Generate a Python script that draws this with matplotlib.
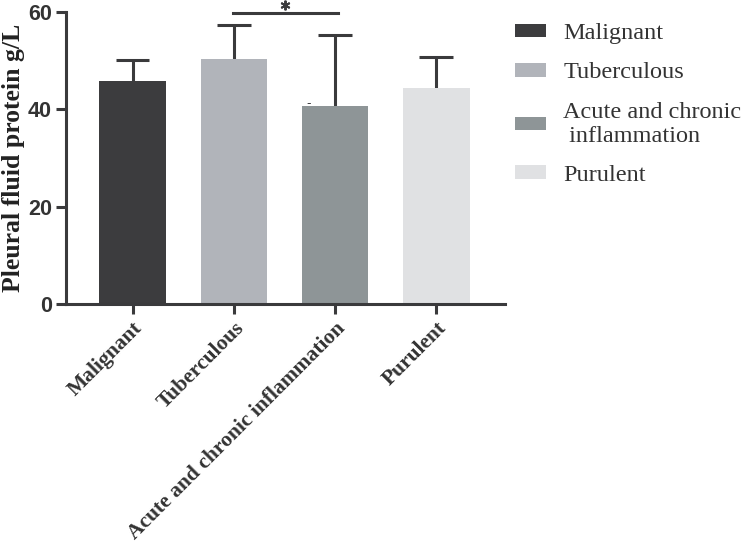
import numpy as np
from matplotlib import pyplot as plt
from matplotlib.patches import Patch

# data
groups = ["Malignant", "Tuberculous", "Acute and chronic inflammation", "Purulent"]
legend_labels = ["Malignant", "Tuberculous", "Acute and chronic\n inflammation", "Purulent"]
means = [45.9, 50.4, 40.8, 44.5]
sd = [4.3, 7.0, 14.5, 6.3]
colors = ["#3c3c3e", "#b1b4ba", "#8e9597", "#e0e1e3"]

axis_col = "#3a3a3c"

fig = plt.figure(figsize=(7.44, 5.49), dpi=100)
ax = fig.add_axes([0.0887, 0.446, 0.590, 0.532])

x = np.arange(len(groups))
ax.bar(x, means, width=0.66, color=colors, zorder=2)
# upper error bars only
tops = np.array(means) + np.array(sd)
ax.vlines(x, means, tops, color=axis_col, lw=2.2, zorder=1)
ax.hlines(tops, x - 0.165, x + 0.165, color=axis_col, lw=2.2, zorder=1)

# significance bar between Tuberculous and Acute
ax.plot([0.99, 2.03], [59.8, 59.8], color=axis_col, lw=2.2, clip_on=False)
ax.plot([1.51], [61.4], marker=(6, 2, 0), ms=7, mew=1.4, color=axis_col,
        clip_on=False)
ax.text(1.74, 41.2, "-", ha="center", va="center", fontsize=9, color=axis_col)

ax.set_xlim(-0.66, 3.68)
ax.set_ylim(0, 60)
ax.set_yticks([0, 20, 40, 60])
ax.set_xticks(x)
ax.set_xticklabels(groups, rotation=45, ha="right", rotation_mode="anchor",
                   family="Liberation Serif", fontweight="bold", fontsize=15.5,
                   color="#333333")
for lbl in ax.get_yticklabels():
    lbl.set_family("Liberation Sans")
    lbl.set_fontweight("bold")
    lbl.set_fontsize(15.5)
    lbl.set_color("#333333")

for s in ["top", "right"]:
    ax.spines[s].set_visible(False)
for s in ["left", "bottom"]:
    ax.spines[s].set_linewidth(2.2)
    ax.spines[s].set_color(axis_col)
ax.tick_params(axis="both", width=2.2, length=7, color=axis_col, pad=3)

ax.set_ylabel("Pleural fluid protein g/L", family="Liberation Serif",
              fontweight="bold", fontsize=18.5, color="#222222", labelpad=2)

handles = [Patch(facecolor=c, edgecolor="none") for c in colors]
fig.legend(handles, legend_labels, loc="upper left", bbox_to_anchor=(0.692, 0.958),
           frameon=False, prop={"family": "Liberation Serif", "size": 17.5},
           handlelength=1.3, handleheight=0.5, labelspacing=0.75, handletextpad=0.7,
           borderpad=0, borderaxespad=0, labelcolor="#333333")

plt.savefig("out.png", dpi=100)
